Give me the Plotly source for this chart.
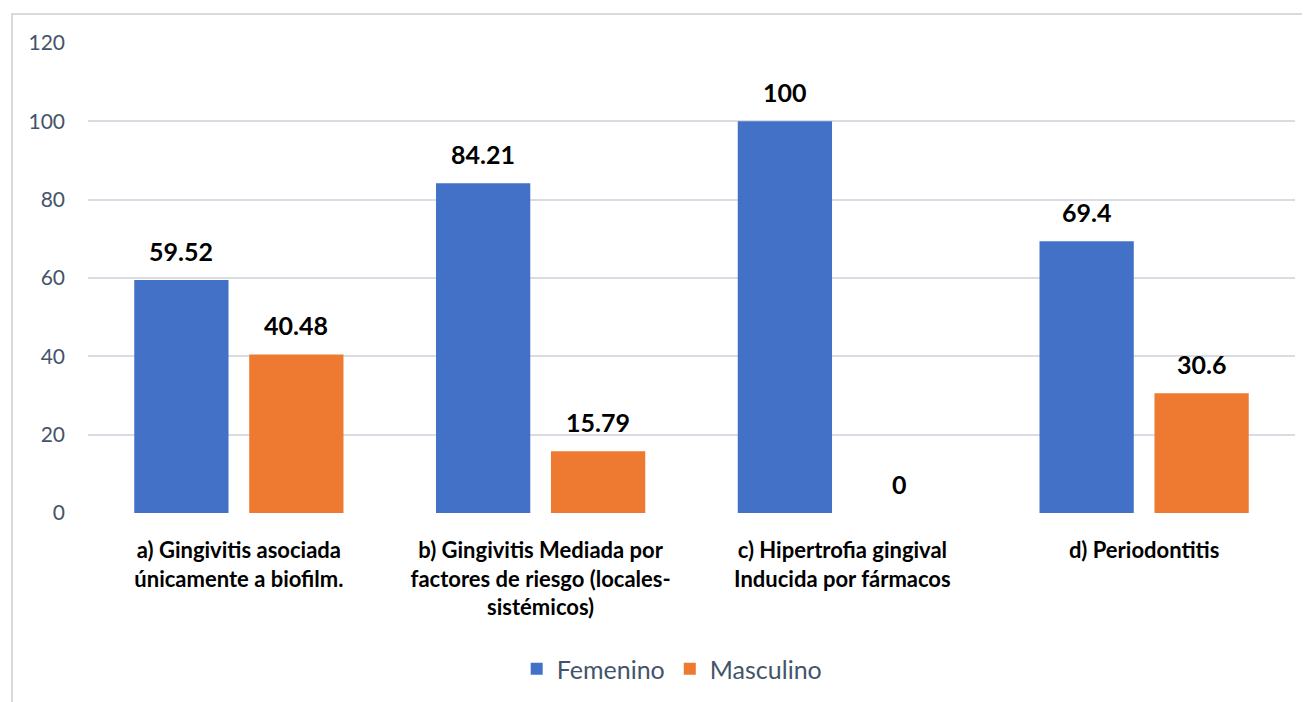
import plotly.graph_objects as go

categories = [
    "a) Gingivitis asociada<br>únicamente a biofilm.",
    "b) Gingivitis Mediada por<br>factores de riesgo (locales-<br>sistémicos)",
    "c) Hipertrofia gingival<br>Inducida por fármacos",
    "d) Periodontitis",
]
femenino = [59.52, 84.21, 100, 69.4]
masculino = [40.48, 15.79, 0, 30.6]
series_names = ["Femenino", "Masculino"]
y_ticks = [0, 20, 40, 60, 80, 100, 120]

FONT = "Lato"
BLUE = "#4371C7"
ORANGE = "#EE7A31"

fig = go.Figure()
fig.add_trace(go.Bar(x=categories, y=femenino, name=series_names[0],
                     marker=dict(color=BLUE, line=dict(width=0))))
fig.add_trace(go.Bar(x=categories, y=masculino, name=series_names[1],
                     marker=dict(color=ORANGE, line=dict(width=0))))

annotations = []
for vals, shift in ((femenino, -57.5), (masculino, 57.5)):
    for c, v in zip(categories, vals):
        annotations.append(dict(
            x=c, y=v, xref="x", yref="y", text="<b>%s</b>" % ("{:g}".format(v)),
            showarrow=False, xshift=shift, yshift=12, yanchor="bottom",
            font=dict(family=FONT, size=25, color="#000000"),
        ))

W, H = 1310, 702
ml, mr, mt, mb = 80, 23, 35, 197
pw, ph = W - ml - mr, H - mt - mb

fig.update_layout(
    width=W, height=H,
    margin=dict(l=ml, r=mr, t=mt, b=mb, autoexpand=False),
    paper_bgcolor="white", plot_bgcolor="white",
    barmode="group", bargap=0.238, bargroupgap=0.18,
    font=dict(family=FONT),
    xaxis=dict(showgrid=False, showline=False, ticks="", automargin=False,
               ticklabelstandoff=22,
               tickfont=dict(family=FONT, size=22, color="#000000", weight="bold")),
    yaxis=dict(range=[0, 120], tickvals=y_ticks, showgrid=True, automargin=False,
               gridcolor="#D9DDE3", gridwidth=2, zeroline=False,
               showline=False, ticks="", ticklabelstandoff=22,
               tickfont=dict(family=FONT, size=21, color="#44546A")),
    legend=dict(orientation="h", x=0.484, xanchor="center", y=-0.332, yanchor="middle",
                font=dict(family=FONT, size=25, color="#44546A"),
                itemwidth=30, traceorder="normal"),
    annotations=annotations,
    shapes=[dict(type="rect", xref="paper", yref="paper",
                 x0=(4 - ml) / pw, x1=(W + 20 - ml) / pw,
                 y0=-(H + 20 - mt - ph) / ph, y1=(H - 6 - mb) / ph,
                 line=dict(color="#D9D9D9", width=2), layer="below")],
)

fig.write_html("out.html")
